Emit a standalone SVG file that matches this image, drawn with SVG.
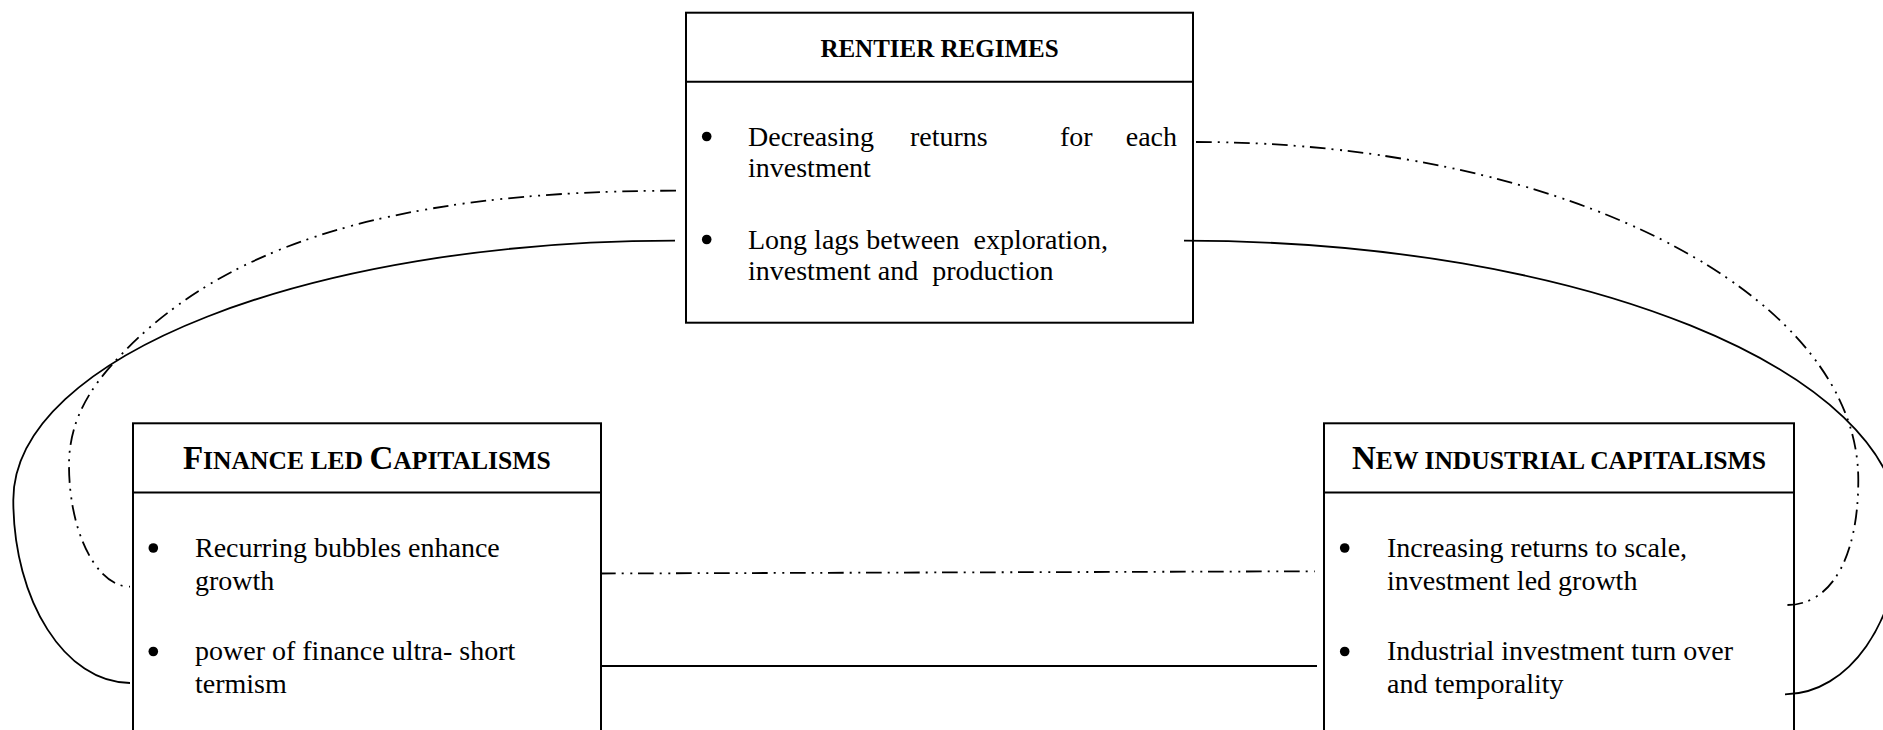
<svg xmlns="http://www.w3.org/2000/svg" width="1883" height="730" viewBox="0 0 1883 730">
<style>
.box{fill:#fff;stroke:#000;stroke-width:2}
.sep{stroke:#000;stroke-width:2}
.t{font-family:"Liberation Serif","Times New Roman",serif;font-weight:bold;fill:#000}
.b{font-family:"Liberation Serif","Times New Roman",serif;font-size:28px;fill:#000}
.dot{fill:#000}
.solid{fill:none;stroke:#000;stroke-width:1.8}
.dd{fill:none;stroke:#000;stroke-width:1.8;stroke-dasharray:15.7 6 2 6.6 2 5.7}
</style>
<rect width="1883" height="730" fill="#fff"/>
<g id="rentier">
<rect class="box" x="686" y="12.7" width="507" height="310"/>
<line class="sep" x1="686" y1="81.7" x2="1193" y2="81.7"/>
<text class="t" x="939.5" y="57" text-anchor="middle" font-size="25">RENTIER REGIMES</text>
<circle class="dot" cx="706.7" cy="136.5" r="4.8"/>
<text class="b" x="748" y="145.5">Decreasing</text>
<text class="b" x="910" y="145.5">returns</text>
<text class="b" x="1060" y="145.5">for</text>
<text class="b" x="1177" y="145.5" text-anchor="end">each</text>
<text class="b" x="748" y="177">investment</text>
<circle class="dot" cx="706.7" cy="239.5" r="4.8"/>
<text class="b" x="748" y="248.5" xml:space="preserve">Long lags between  exploration,</text>
<text class="b" x="748" y="280" xml:space="preserve">investment and  production</text>
</g>
<g id="finance">
<rect class="box" x="133" y="423.3" width="468" height="340"/>
<line class="sep" x1="133" y1="492.5" x2="601" y2="492.5"/>
<text class="t" x="366.8" y="469.3" text-anchor="middle" font-size="33">F<tspan font-size="25.6">INANCE LED </tspan>C<tspan font-size="25.6">APITALISMS</tspan></text>
<circle class="dot" cx="153.3" cy="548" r="4.8"/>
<text class="b" x="195" y="556.7">Recurring bubbles enhance</text>
<text class="b" x="195" y="590">growth</text>
<circle class="dot" cx="153.3" cy="651.5" r="4.8"/>
<text class="b" x="195" y="660">power of finance ultra- short</text>
<text class="b" x="195" y="693.3">termism</text>
</g>
<g id="industrial">
<rect class="box" x="1324" y="423.3" width="470" height="340"/>
<line class="sep" x1="1324" y1="492.5" x2="1794" y2="492.5"/>
<text class="t" x="1559" y="469.3" text-anchor="middle" font-size="33">N<tspan font-size="25.6">EW INDUSTRIAL CAPITALISMS</tspan></text>
<circle class="dot" cx="1344.7" cy="548" r="4.8"/>
<text class="b" x="1387" y="556.7">Increasing returns to scale,</text>
<text class="b" x="1387" y="589.5">investment led growth</text>
<circle class="dot" cx="1344.7" cy="651.5" r="4.8"/>
<text class="b" x="1387" y="659.5">Industrial investment turn over</text>
<text class="b" x="1387" y="693">and temporality</text>
</g>
<g id="connectors">
<path class="solid" d="M675,240.7 C309.4,240.7 13.3,357 13.3,500 C13.3,601 65.5,683 130,683"/>
<path class="dd" d="M676,190.7 C376,190.7 213.4,252 113,363.5 C86.2,393.2 69,425 69,465 C69,532 96.4,586.7 130,586.7"/>
<path class="dd" d="M1196,142 C1561.8,142 1858.3,293.3 1858.3,480 C1858.3,557.5 1831.2,605 1787,605"/>
<path class="solid" d="M1184,240.7 C1579.4,240.7 1900,370.2 1900,530 C1900,620.7 1848.5,694.3 1785,694.3"/>
<path class="dd" d="M600,573.5 L1315,571.3"/>
<path class="solid" d="M601,666 L1317,666"/>
</g>
</svg>
